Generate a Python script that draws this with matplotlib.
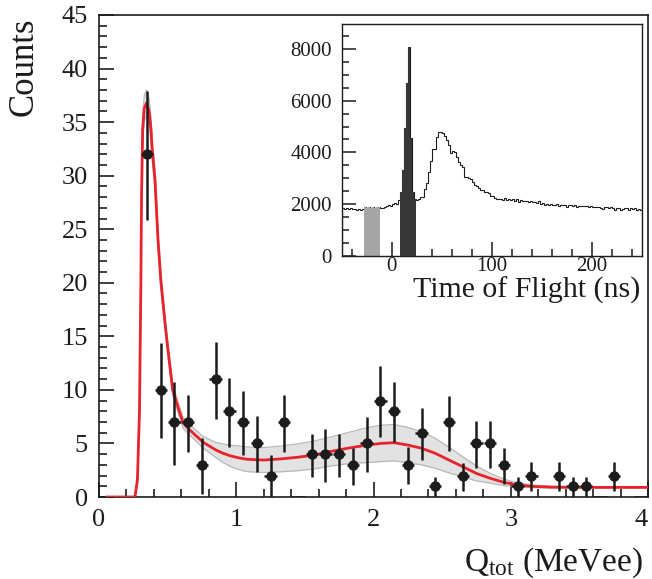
import numpy as np
import matplotlib
matplotlib.use("Agg")
import matplotlib.pyplot as plt

plt.rcParams['font.family'] = ['Liberation Serif', 'DejaVu Serif']
plt.rcParams['mathtext.fontset'] = 'custom'
plt.rcParams['mathtext.rm'] = 'Liberation Serif'
plt.rcParams['mathtext.it'] = 'Liberation Serif:italic'

# ---------------- main data ----------------
bin_x = [0.35, 0.45, 0.55, 0.65, 0.75, 0.85, 0.95, 1.05, 1.15, 1.25, 1.35,
         1.55, 1.65, 1.75, 1.85, 1.95, 2.05, 2.15, 2.25, 2.35, 2.45, 2.55,
         2.65, 2.75, 2.85, 2.95, 3.05, 3.15, 3.35, 3.45, 3.55, 3.75]
counts = [32, 10, 7, 7, 3, 11, 8, 7, 5, 2, 7,
          4, 4, 4, 3, 5, 9, 8, 3, 6, 1, 7,
          2, 5, 5, 3, 1, 2, 2, 1, 1, 2]
err_lo = [6.1, 4.5, 4.0, 2.8, 2.7, 3.7, 3.3, 3.1, 2.7, 2.0, 2.8,
          2.1, 2.6, 2.1, 1.9, 2.7, 3.4, 2.9, 1.8, 2.5, 1.0, 2.7,
          1.4, 2.3, 2.3, 1.8, 1.0, 1.4, 1.4, 1.0, 1.0, 1.4]
err_hi = [5.9, 4.35, 3.7, 2.5, 2.5, 3.45, 3.1, 2.9, 2.55, 1.9, 2.5,
          1.9, 2.35, 1.9, 1.55, 2.5, 3.2, 2.7, 1.65, 2.3, 0.85, 2.45,
          1.2, 2.1, 2.1, 1.55, 0.85, 1.3, 1.3, 0.9, 0.9, 1.3]
zero_bins = [1.45, 3.65, 3.95]

fit_x = [0.05, 0.20, 0.262, 0.28, 0.295, 0.305, 0.31, 0.318, 0.33, 0.347,
         0.365, 0.379, 0.386, 0.408, 0.43, 0.45, 0.475, 0.50, 0.537, 0.58,
         0.614, 0.65, 0.70, 0.76, 0.85, 0.90, 0.96, 1.02, 1.08, 1.20, 1.32,
         1.44, 1.56, 1.68, 1.81, 1.93, 2.05, 2.15, 2.25, 2.35, 2.45, 2.55,
         2.65, 2.75, 2.85, 2.95, 3.05, 3.15, 3.30, 3.50, 4.00]
fit_y = [0.0, 0.0, 0.0, 1.6, 8.0, 20.0, 28.0, 34.3, 36.3, 36.8,
         36.0, 34.3, 32.7, 29.6, 24.0, 20.3, 17.0, 14.0, 10.0, 8.2,
         6.9, 6.4, 5.8, 5.1, 4.4, 4.1, 3.83, 3.65, 3.52, 3.45, 3.55,
         3.7, 3.9, 4.23, 4.55, 4.8, 5.0, 5.07, 4.85, 4.55, 4.08, 3.45,
         2.83, 2.2, 1.75, 1.37, 1.12, 1.0, 0.92, 0.9, 0.9]
fit_band = [0.0, 0.0, 0.0, 0.3, 0.8, 1.0, 1.1, 1.2, 1.2, 1.2,
            1.2, 1.1, 1.0, 0.9, 0.8, 0.7, 0.6, 0.5, 0.5, 0.5,
            0.5, 0.5, 0.5, 0.55, 0.7, 0.85, 1.0, 1.1, 1.15, 1.17, 1.2,
            1.25, 1.3, 1.35, 1.45, 1.6, 1.7, 1.7, 1.65, 1.55, 1.4, 1.2,
            0.93, 0.7, 0.46, 0.3, 0.2, 0.12, 0.08, 0.05, 0.05]

# ---------------- inset data (2 ns bins from -50 to 250) ----------------
tof_edges_start = -50
tof_bin = 2
tof_counts = [1830, 1810, 1840, 1800, 1830, 1790, 1820, 1780, 1800, 1770, 1790,
              1880, 1850, 1890, 1850, 1880, 1860, 1890, 1870,
              1850, 1840, 1880, 1920, 1960, 1940, 2000, 2030, 1990, 2150,
              2480, 3320, 4930, 6670, 8090, 4540, 2480, 2200,
              2160, 2180, 2260, 2280, 2600, 2800, 3250, 3650, 4120, 4150,
              4580, 4800, 4790, 4740, 4620, 4470, 4280, 3990, 4060, 4000,
              3830, 3640, 3510, 3420, 3060, 3040, 3020, 2970, 2860, 2740,
              2700, 2610, 2550, 2540, 2480, 2470, 2410, 2330, 2320, 2230,
              2200, 2190, 2200, 2170, 2240, 2150, 2180, 2140, 2200, 2110,
              2180, 2090, 2140, 2120, 2100, 2130, 2080, 2110, 2060, 2090,
              2040, 2100, 2010, 2050, 1980, 2020, 1970, 1990, 1960, 1960,
              1990, 1930, 1980, 1950, 1960, 1900, 1950, 1960, 1920, 1960,
              1890, 1940, 1930, 1920, 1930, 1910, 1880, 1930, 1900, 1870,
              1900, 1880, 1860, 1820, 1880, 1900, 1850, 1870, 1860, 1780,
              1830, 1860, 1780, 1800, 1840, 1830, 1770, 1840, 1800, 1830,
              1770, 1810, 1780]
grey_start, grey_stop = -28, -12     # off-time window (ns)
black_start, black_stop = 8, 24      # gamma flash window (ns)

# ---------------- figure ----------------
W, H = 652, 579
fig = plt.figure(figsize=(W / 100, H / 100), dpi=100)

ax = fig.add_axes([99 / W, 1 - 497 / H, 549 / W, (497 - 15) / H])
fx = np.array(fit_x); fy = np.array(fit_y); fb = np.array(fit_band)
ax.fill_between(fx, fy - fb, fy + fb, color='#e2e2e2', lw=0, zorder=1)
ax.plot(fx, fy + fb, color='#b8b8b8', lw=0.9, zorder=2)
ax.plot(fx, np.clip(fy - fb, 0, None), color='#b8b8b8', lw=0.9, zorder=2)
ax.plot(fx, fy, color='#e8232b', lw=2.0, zorder=4, solid_capstyle='butt')

ax.errorbar(bin_x, counts, yerr=[err_lo, err_hi], xerr=0.045, fmt='o',
            color='#1c1c1c', ms=6.5, elinewidth=1.8, capsize=0, zorder=5)
ax.errorbar(zero_bins, [0] * len(zero_bins), xerr=0.05, fmt='none',
            color='#1c1c1c', elinewidth=1.8, zorder=5, clip_on=True)

ax.set_xlim(0, 4)
ax.set_ylim(0, 45)
ax.set_xticks([0, 1, 2, 3, 4])
ax.set_xticks(np.arange(0, 4.01, 0.2), minor=True)
ax.set_yticks(np.arange(0, 46, 5))
ax.set_yticks(np.arange(0, 46, 1), minor=True)
ax.tick_params(which='both', direction='in', top=False, right=False,
               width=1.2, color='#1c1c1c', labelsize=19, labelcolor='#1c1c1c')
ax.tick_params(which='major', length=11)
ax.tick_params(which='minor', length=5.5)
ax.tick_params(axis='x', pad=9)
ax.tick_params(axis='y', pad=8)
for s in ax.spines.values():
    s.set_linewidth(1.2)
    s.set_color('#1c1c1c')
ax.get_xticklabels()[-1].set_horizontalalignment('right')

fig.text(24 / W, 1 - 18 / H, 'Counts', rotation=90, ha='center', va='top',
         fontsize=25, color='#1c1c1c')
fig.text(643 / W, 1 - 571 / H, r'Q$_{\mathrm{tot}}$ (MeVee)', ha='right',
         va='baseline', fontsize=24, color='#1c1c1c')

# ---------------- inset ----------------
axi = fig.add_axes([341.7 / W, 1 - 255.7 / H, 300 / W, (255.7 - 24) / H])
edges = tof_edges_start + tof_bin * np.arange(len(tof_counts) + 1)
vals = np.array(tof_counts)
centers = edges[:-1]
gmask = (centers >= grey_start) & (centers < grey_stop)
bmask = (centers >= black_start) & (centers < black_stop)
gi = np.where(gmask)[0]; bi = np.where(bmask)[0]
axi.stairs(vals[gi], edges[gi[0]:gi[-1] + 2], fill=True, color='#a5a5a5', zorder=2)
axi.stairs(vals[bi], edges[bi[0]:bi[-1] + 2], fill=True, color='#373737', zorder=3)
axi.stairs(vals, edges, color='#1c1c1c', lw=0.8, zorder=1)
axi.set_xlim(-50, 250)
axi.set_ylim(0, 8970)
axi.set_xticks([0, 100, 200])
axi.set_xticks(np.arange(-40, 251, 20), minor=True)
axi.set_yticks([0, 2000, 4000, 6000, 8000])
axi.set_yticks(np.arange(0, 8970, 500), minor=True)
axi.tick_params(which='both', direction='in', top=False, right=False,
                width=1.1, color='#1c1c1c', labelsize=15, labelcolor='#1c1c1c')
axi.tick_params(which='major', length=10)
axi.tick_params(which='minor', length=5)
axi.tick_params(axis='x', pad=1)
axi.tick_params(axis='y', pad=7)
for s in axi.spines.values():
    s.set_linewidth(1.0)
    s.set_color('#1c1c1c')
fig.text(640 / W, 1 - 298 / H, 'Time of Flight (ns)', ha='right', va='baseline',
         fontsize=21.5, color='#1c1c1c')

fig.savefig('out.png', dpi=100)
